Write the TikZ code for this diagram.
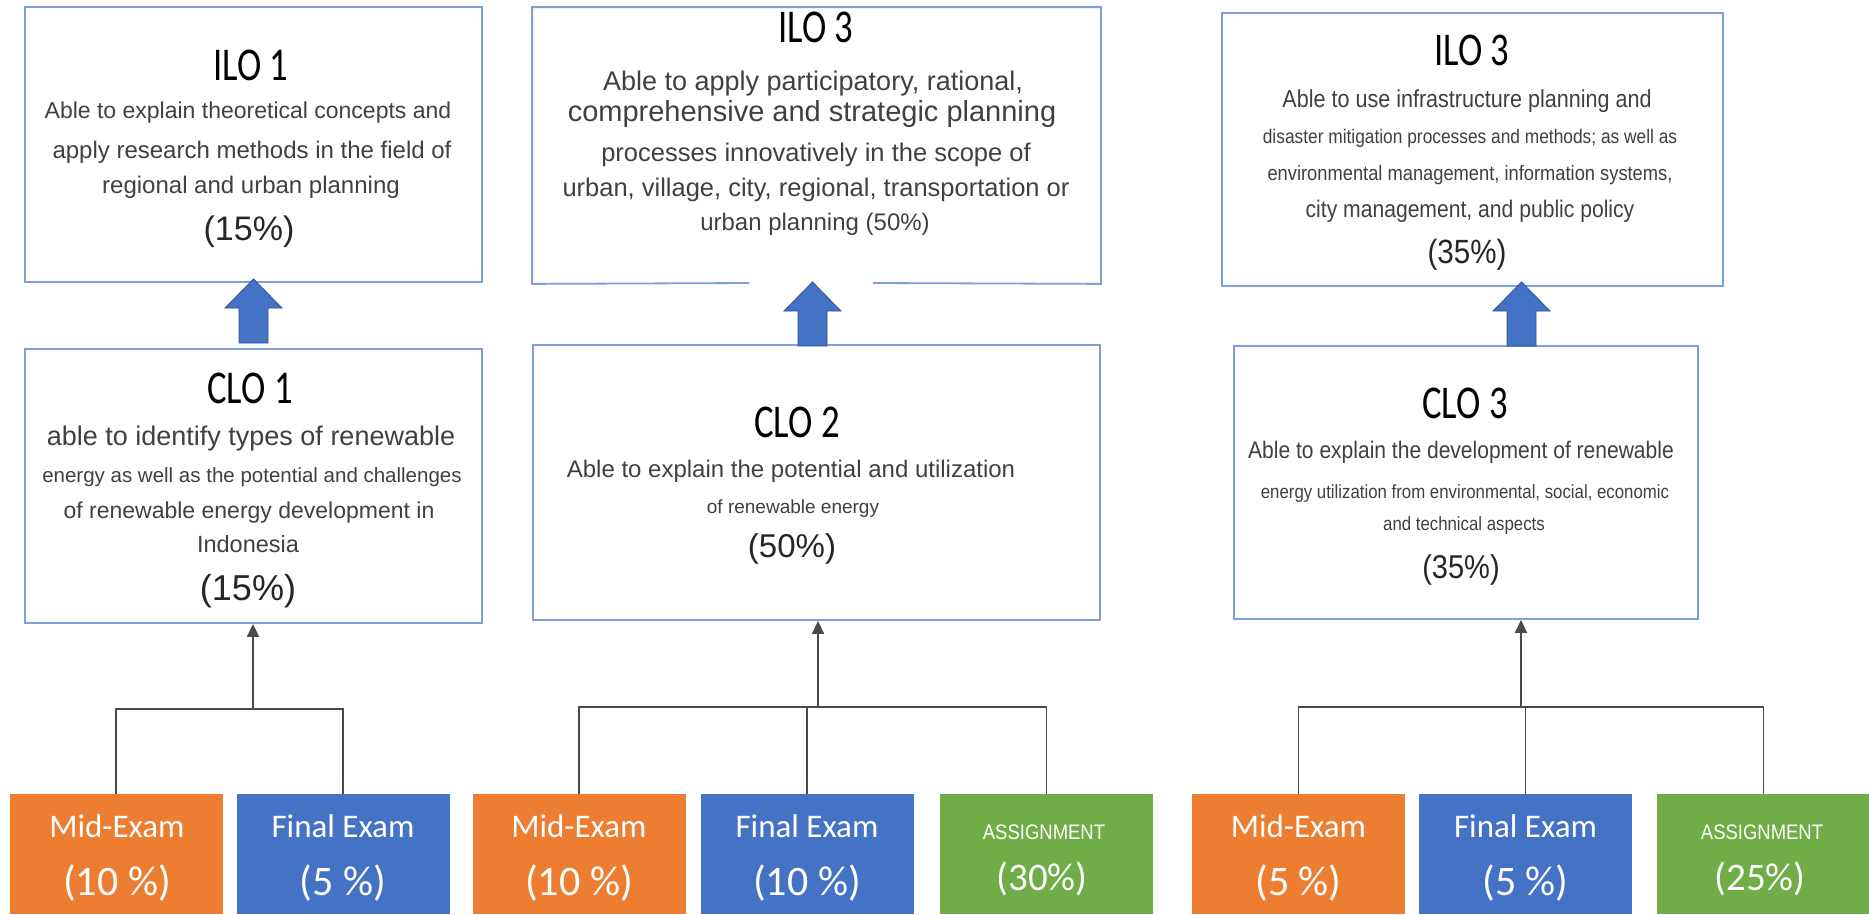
\documentclass[tikz,border=0pt]{standalone}
\usepackage{fontspec}
\setmainfont{Liberation Sans}
\newfontfamily\ttlfont[FakeStretch=0.78]{Carlito}
\newfontfamily\calfont{Carlito}
\newfontfamily\nrwfont[FakeStretch=0.88]{Liberation Sans}
\usetikzlibrary{arrows.meta}
\definecolor{boxline}{HTML}{7F9FD8}
\definecolor{arrblue}{HTML}{4472C4}
\definecolor{arredge}{HTML}{2F528F}
\definecolor{exorange}{HTML}{ED7D31}
\definecolor{exblue}{HTML}{4472C4}
\definecolor{exgreen}{HTML}{70AD47}
\definecolor{txtgray}{HTML}{404040}
\definecolor{pctblack}{HTML}{262626}
\definecolor{treeline}{HTML}{4A4A4A}
\newcommand\fsz[1]{\fontsize{#1}{#1}\selectfont}
\begin{document}
\begin{tikzpicture}[x=1pt,y=-1pt,
  obox/.style={draw=boxline, line width=1.8pt, fill=white, inner sep=0pt},
  bodytxt/.style={inner sep=0pt, anchor=base, text=txtgray},
  ttltxt/.style={inner sep=0pt, anchor=base, text=black, font=\ttlfont\fsz{47}},
  pcttxt/.style={inner sep=0pt, anchor=base, text=pctblack},
  exbox/.style={inner sep=0pt, minimum width=213pt, minimum height=120pt, draw=none},
  extxt/.style={inner sep=0pt, anchor=base, text=white, font=\calfont\fsz{33}},
  expct/.style={inner sep=0pt, anchor=base, text=white, font=\calfont\fsz{42}},
  astxt/.style={inner sep=0pt, anchor=base, text=white, font=\nrwfont\fsz{21}},
  aspct/.style={inner sep=0pt, anchor=base, text=white, font=\calfont\fsz{39}},
  tree/.style={draw=treeline, line width=1.6pt},
  blockarr/.style={fill=arrblue, draw=arredge, line width=0.8pt},
  uparrow/.pic={\draw[blockarr] (0,0) -- (28.5,29) -- (14.5,29) -- (14.5,64)
      -- (-14.5,64) -- (-14.5,29) -- (-28.5,29) -- cycle;}
]
\useasboundingbox (0,0) rectangle (1869,914);
\fill[white] (0,0) rectangle (1869,914);

% ---------- ILO boxes ----------
\node[obox, minimum width=457pt, minimum height=275pt] (ilo1) at (253.5,144.5) {};
\node[obox, draw=none, minimum width=567pt, minimum height=275pt] (ilo2) at (816.5,145.5) {};
\coordinate (gapL) at (749,283);
\coordinate (gapR) at (873,283);
\draw[draw=boxline, line width=1.8pt] (gapL) -- (ilo2.south west) -- (ilo2.north west)
  -- (ilo2.north east) -- (ilo2.south east) -- (gapR);
\node[obox, minimum width=501pt, minimum height=273pt] (ilo3) at (1472.5,149.5) {};

% ---------- CLO boxes ----------
\node[obox, minimum width=457pt, minimum height=274pt] (clo1) at (253.5,486) {};
\node[obox, minimum width=567pt, minimum height=275pt] (clo2) at (816.5,482.5) {};
\node[obox, minimum width=464pt, minimum height=273pt] (clo3) at (1466,482.5) {};

% ---------- block arrows ----------
\pic at (253.5,279) {uparrow};
\pic at (812.5,282) {uparrow};
\pic at (1521.5,282) {uparrow};

% ---------- ILO 1 text ----------
\node[ttltxt] (ilo1t) at (251,80) {ILO 1};
\node[bodytxt, font=\fsz{23}] (ilo1a) at (248,118) {Able to explain theoretical concepts and};
\node[bodytxt, font=\fsz{24}] (ilo1b) at (252,158) {apply research methods in the field of};
\node[bodytxt, font=\fsz{24}] (ilo1c) at (251,193) {regional and urban planning};
\node[pcttxt, font=\fsz{34}] (ilo1p) at (249,240) {(15\%)};

% ---------- ILO 3 (middle) text ----------
\node[ttltxt] (ilo2t) at (816,42) {ILO 3};
\node[bodytxt, font=\fsz{27}] (ilo2a) at (813,90) {Able to apply participatory, rational,};
\node[bodytxt, font=\fsz{29}] (ilo2b) at (812,121) {comprehensive and strategic planning};
\node[bodytxt, font=\fsz{25.5}] (ilo2c) at (816,161) {processes innovatively in the scope of};
\node[bodytxt, font=\fsz{25.5}] (ilo2d) at (816,196) {urban, village, city, regional, transportation or};
\node[bodytxt, font=\fsz{24}] (ilo2e) at (815,230) {urban planning (50\%)};

% ---------- ILO 3 (right) text ----------
\node[ttltxt] (ilo3t) at (1472,65) {ILO 3};
\node[bodytxt, font=\nrwfont\fsz{24.5}] (ilo3a) at (1467,107) {Able to use infrastructure planning and};
\node[bodytxt, font=\nrwfont\fsz{19.7}] (ilo3b) at (1470,143) {disaster mitigation processes and methods; as well as};
\node[bodytxt, font=\nrwfont\fsz{20.8}] (ilo3c) at (1470,180) {environmental management, information systems,};
\node[bodytxt, font=\nrwfont\fsz{24}] (ilo3d) at (1470,217) {city management, and public policy};
\node[pcttxt, font=\nrwfont\fsz{33.6}] (ilo3p) at (1467,263) {(35\%)};

% ---------- CLO 1 text ----------
\node[ttltxt] (clo1t) at (250,403) {CLO 1};
\node[bodytxt, font=\fsz{27}] (clo1a) at (251,445) {able to identify types of renewable};
\node[bodytxt, font=\fsz{20.5}] (clo1b) at (252,482) {energy as well as the potential and challenges};
\node[bodytxt, font=\fsz{23}] (clo1c) at (249,518) {of renewable energy development in};
\node[bodytxt, font=\fsz{23.5}] (clo1d) at (248,552) {Indonesia};
\node[pcttxt, font=\fsz{36}] (clo1p) at (248,600) {(15\%)};

% ---------- CLO 2 text ----------
\node[ttltxt] (clo2t) at (797,437) {CLO 2};
\node[bodytxt, font=\fsz{24}] (clo2a) at (791,477) {Able to explain the potential and utilization};
\node[bodytxt, font=\fsz{19}] (clo2b) at (793,513) {of renewable energy};
\node[pcttxt, font=\fsz{33}] (clo2p) at (792,557) {(50\%)};

% ---------- CLO 3 text ----------
\node[ttltxt] (clo3t) at (1465,418) {CLO 3};
\node[bodytxt, font=\nrwfont\fsz{23.9}] (clo3a) at (1461,458) {Able to explain the development of renewable};
\node[bodytxt, font=\nrwfont\fsz{19.1}] (clo3b) at (1465,498) {energy utilization from environmental, social, economic};
\node[bodytxt, font=\nrwfont\fsz{19.1}] (clo3c) at (1464,530) {and technical aspects};
\node[pcttxt, font=\nrwfont\fsz{33}] (clo3p) at (1461,578) {(35\%)};

% ---------- assessment boxes ----------
\node[exbox, fill=exorange] (m1) at (116,854) {};
\node[exbox, fill=exblue]   (f1) at (343,854) {};
\node[exbox, fill=exorange] (m2) at (579,854) {};
\node[exbox, fill=exblue]   (f2) at (807,854) {};
\node[exbox, fill=exgreen]  (a2) at (1046.5,854) {};
\node[exbox, fill=exorange] (m3) at (1298.5,854) {};
\node[exbox, fill=exblue]   (f3) at (1525.5,854) {};
\node[exbox, fill=exgreen]  (a3) at (1763.5,854) {};

\node[extxt] (m1l) at (117,837) {Mid-Exam};
\node[expct] (m1p) at (117,895) {(10 \%)};
\node[extxt] (f1l) at (343,837) {Final Exam};
\node[expct] (f1p) at (343,895) {(5 \%)};
\node[extxt] (m2l) at (579,837) {Mid-Exam};
\node[expct] (m2p) at (579,895) {(10 \%)};
\node[extxt] (f2l) at (807,837) {Final Exam};
\node[expct] (f2p) at (807,895) {(10 \%)};
\node[astxt] (a2l) at (1044,839) {ASSIGNMENT};
\node[aspct] (a2p) at (1042,890) {(30\%)};
\node[extxt] (m3l) at (1298.5,837) {Mid-Exam};
\node[expct] (m3p) at (1298.5,895) {(5 \%)};
\node[extxt] (f3l) at (1525.5,837) {Final Exam};
\node[expct] (f3p) at (1525.5,895) {(5 \%)};
\node[astxt] (a3l) at (1762,839) {ASSIGNMENT};
\node[aspct] (a3p) at (1760,890) {(25\%)};

% ---------- tree connectors ----------
\coordinate (j1) at (253,709);
\coordinate (j2) at (818,707);
\coordinate (j3) at (1521,707);

\draw[tree] (m1.north) -- (m1.north |- j1) -- (f1.north |- j1) -- (f1.north);
\draw[tree, -{Triangle[length=13pt,width=12pt]}] (j1) -- (j1 |- clo1.south);

\draw[tree] (m2.north) -- (m2.north |- j2) -- (a2.north |- j2) -- (a2.north);
\draw[tree] (f2.north |- j2) -- (f2.north);
\draw[tree, -{Triangle[length=13pt,width=12pt]}] (j2) -- (j2 |- clo2.south);

\draw[tree] (m3.north) -- (m3.north |- j3) -- (a3.north |- j3) -- (a3.north);
\draw[tree] (f3.north |- j3) -- (f3.north);
\draw[tree, -{Triangle[length=13pt,width=12pt]}] (j3) -- (j3 |- clo3.south);
\end{tikzpicture}
\end{document}
